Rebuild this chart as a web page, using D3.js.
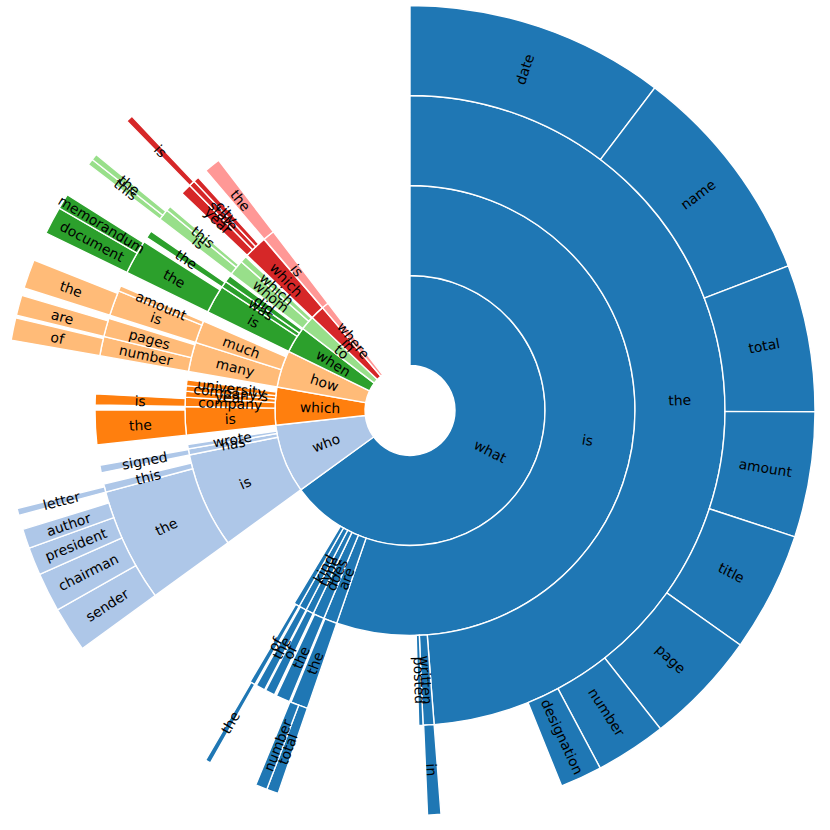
<!DOCTYPE html>
<html>
<head>
<meta charset="utf-8">
<script src="https://cdn.jsdelivr.net/npm/d3@7"></script>
<style>
  html, body { margin: 0; padding: 0; background: #ffffff; }
  svg { display: block; }
</style>
</head>
<body>
<svg id="chart" width="830" height="830"></svg>
<script>
// Share of all questions (%). Paths give the word sequence.
const level1Paths  = ["what", "who", "which", "how", "when", "to", "in", "where"];
const level1Values = [65.00, 8.25, 4.53, 4.44, 3.17, 1.72, 1.67, 0.83];

const level2Paths  = ["what/is", "what/are", "what/does", "what/type", "what/kind", "what/-",
                      "who/is", "who/has", "who/wrote",
                      "which/is", "which/company", "which/year", "which/company's", "which/university",
                      "how/many", "how/much",
                      "when/is", "when/was", "when/did",
                      "to/whom", "to/which",
                      "in/which",
                      "where/is"];
const level2Values = [55.28, 0.97, 0.83, 0.56, 0.56, 0.42,
                      6.83, 0.44, 0.31,
                      2.03, 0.67, 0.42, 0.39, 0.42,
                      2.11, 1.61,
                      2.03, 0.47, 0.50,
                      1.11, 0.47,
                      1.64,
                      0.83];

const level3Paths  = ["what/is/the", "what/is/written", "what/is/posted",
                      "what/are/the", "what/does/the", "what/type/of", "what/kind/the", "what/-/of",
                      "who/is/the", "who/is/this", "who/has/signed",
                      "which/is/the", "which/company/is",
                      "how/many/number", "how/many/pages", "how/much/is", "how/much/amount",
                      "when/is/the", "when/was/the",
                      "to/whom/is", "to/whom/this",
                      "in/which/year", "in/which/state", "in/which/city",
                      "where/is/the"];
const level3Values = [48.78, 0.56, 0.22,
                      0.89, 0.72, 0.50, 0.47, 0.28,
                      5.83, 0.42, 0.39,
                      1.78, 0.56,
                      1.00, 0.94, 1.31, 0.28,
                      1.78, 0.39,
                      0.58, 0.25,
                      0.56, 0.31, 0.28,
                      0.83];

const level4Paths  = ["what/is/the/date", "what/is/the/name", "what/is/the/total", "what/is/the/amount",
                      "what/is/the/title", "what/is/the/page", "what/is/the/number", "what/is/the/designation",
                      "what/is/written/in",
                      "what/are/the/total", "what/are/the/number",
                      "what/-/of/the",
                      "who/is/the/sender", "who/is/the/chairman", "who/is/the/president", "who/is/the/author",
                      "who/is/this/letter",
                      "how/many/number/of", "how/many/pages/are", "how/much/is/the",
                      "when/is/the/document", "when/is/the/memorandum",
                      "to/whom/is/this", "to/whom/is/the",
                      "in/which/state/is"];
const level4Values = [10.33, 8.86, 5.86, 5.00,
                      4.78, 4.56, 2.83, 1.67,
                      0.53,
                      0.47, 0.47,
                      0.22,
                      1.81, 1.56, 1.11, 0.78,
                      0.28,
                      0.89, 0.81, 1.17,
                      1.11, 0.61,
                      0.25, 0.25,
                      0.28];

const palette = ["#1f77b4", "#aec7e8", "#ff7f0e", "#ffbb78", "#2ca02c", "#98df8a", "#d62728", "#ff9896"];

// ---- build hierarchy ----
const rows = [{ id: "root", parent: null, value: 0 }];
[[level1Paths, level1Values], [level2Paths, level2Values], [level3Paths, level3Values], [level4Paths, level4Values]]
  .forEach(([paths, vals]) => {
    paths.forEach((p, i) => {
      const parts = p.split("/");
      rows.push({
        id: p,
        parent: parts.length === 1 ? "root" : parts.slice(0, -1).join("/"),
        name: parts[parts.length - 1],
        top: parts[0],
        value: vals[i]
      });
    });
  });

const root = d3.stratify().id(d => d.id).parentId(d => d.parent)(rows);

// children laid out one after another from their parent's start angle
root.eachBefore(n => {
  if (!n.parent) { n.a0 = 0; n.a1 = 100; n.cursor = 0; return; }
  const p = n.parent;
  n.a0 = p.cursor;
  n.a1 = n.a0 + n.data.value;
  p.cursor = n.a1;
  n.cursor = n.a0;
});

const cx = 410, cy = 410.5;
const angle = d3.scaleLinear().domain([0, 100]).range([0, 2 * Math.PI]);
const radius = d3.scaleLinear().domain([0, 4]).range([45, 405]);
const color = d3.scaleOrdinal().domain(level1Paths).range(palette);

const arc = d3.arc()
  .startAngle(d => angle(d.a0))
  .endAngle(d => angle(d.a1))
  .innerRadius(d => radius(d.depth - 1))
  .outerRadius(d => radius(d.depth));

const svg = d3.select("#chart");
const g = svg.append("g").attr("transform", `translate(${cx},${cy})`);

const nodes = root.descendants().filter(d => d.depth > 0);

g.selectAll("path.seg")
  .data(nodes)
  .join("path")
  .attr("class", "seg")
  .attr("d", arc)
  .attr("fill", d => color(d.data.top))
  .attr("stroke", "#ffffff")
  .attr("stroke-width", 1.4)
  .attr("stroke-linejoin", "miter");

g.selectAll("text.lbl")
  .data(nodes.filter(d => d.data.name !== "-"))
  .join("text")
  .attr("class", "lbl")
  .attr("transform", d => {
    const [x, y] = arc.centroid(d);
    const deg = angle((d.a0 + d.a1) / 2) * 180 / Math.PI;
    const rot = deg <= 180 ? deg - 90 : deg - 270;
    return `translate(${x},${y}) rotate(${rot})`;
  })
  .attr("text-anchor", "middle")
  .attr("dominant-baseline", "central")
  .attr("font-family", "DejaVu Sans, sans-serif")
  .attr("font-size", "13.9px")
  .attr("fill", "#000000")
  .text(d => d.data.name);
</script>
</body>
</html>
